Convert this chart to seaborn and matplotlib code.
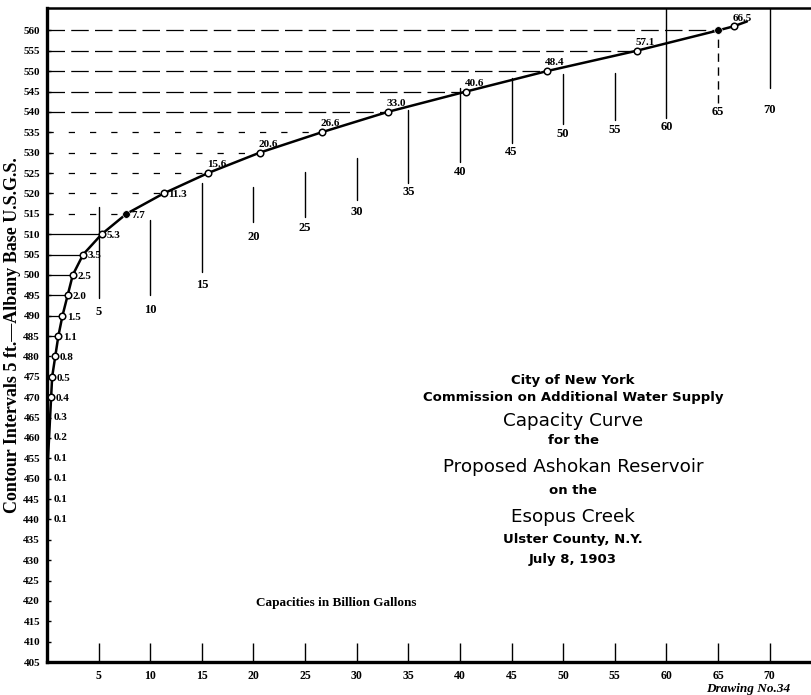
import pandas as pd
import seaborn as sns
import matplotlib.pyplot as plt

# contour elevation (ft) and capacity (billion gallons)
elevation = [440, 445, 450, 455, 460, 465, 470, 475, 480, 485, 490, 495, 500,
             505, 510, 515, 520, 525, 530, 535, 540, 545, 550, 555, 560, 561, 562.2]
capacity = [0.1, 0.1, 0.1, 0.1, 0.2, 0.3, 0.4, 0.5, 0.8, 1.1, 1.5, 2.0, 2.5,
            3.5, 5.3, 7.7, 11.3, 15.6, 20.6, 26.6, 33.0, 40.6, 48.4, 57.1, 65.0, 66.5, 67.8]
point_labels = ["0.1", "0.1", "0.1", "0.1", "0.2", "0.3", "0.4", "0.5", "0.8", "1.1",
                "1.5", "2.0", "2.5", "3.5", "5.3", "7.7", "11.3", "15.6", "20.6",
                "26.6", "33.0", "40.6", "48.4", "57.1", "", "66.5", ""]

# staggered vertical guide lines with their capacity numbers
guide_x = [5, 10, 15, 20, 25, 30, 35, 40, 45, 50, 55, 60, 65, 70]
guide_top = [516.6, 513.4, 522.5, 521.5, 525.2, 528.8, 540.4, 545.8, 548.2, 549.2, 549.5, 565.5, 558.8, 565.5]
guide_bottom = [494.3, 495.0, 500.6, 512.9, 514.1, 518.3, 522.5, 527.6, 532.3, 537.0, 537.9, 538.4, 542.3, 545.8]
guide_label_y = [490.8, 491.3, 497.5, 509.2, 511.4, 515.4, 520.3, 525.2, 530.1, 534.7, 535.5, 536.2, 539.9, 540.4]

y_ticks = list(range(405, 561, 5))
x_ticks = list(range(5, 71, 5))

title_lines = ["City of New York", "Commission on Additional Water Supply", "Capacity Curve",
               "for the", "Proposed Ashokan Reservoir", "on the", "Esopus Creek",
               "Ulster County, N.Y.", "July 8, 1903"]
title_y_px = [380, 398, 421, 441, 467, 490, 517, 539, 559]
title_big = [False, False, True, False, True, False, True, False, False]

df = pd.DataFrame({"elevation": elevation, "capacity": capacity, "label": point_labels})

sns.set_theme(style="white")
plt.rcParams["font.family"] = ["Liberation Serif", "DejaVu Serif"]
plt.rcParams["text.color"] = "black"

fig = plt.figure(figsize=(8.11, 6.95), dpi=100)
ax = fig.add_axes([47 / 811, 33 / 695, 764 / 811, 654 / 695])

# horizontal contour lines from the axis to the curve
for e, c in zip(elevation, capacity):
    if e < 485 or e > 560:
        continue
    ls = "-" if e <= 510 else ((0, (14, 5)) if e in (540, 545, 550, 555, 560) else (0, (5, 12)))
    ax.plot([0, c], [e, e], color="black", lw=0.9, ls=ls, zorder=1)

# vertical guides and numbers
for gx, top, bot, ly in zip(guide_x, guide_top, guide_bottom, guide_label_y):
    ls = (0, (6, 4)) if gx == 65 else "-"
    ax.plot([gx, gx], [bot, top], color="black", lw=1.0, ls=ls, zorder=1)
    ax.text(gx, ly, str(gx), ha="center", va="center", fontsize=9, fontweight="bold")

# capacity curve
sns.lineplot(data=df, x="capacity", y="elevation", sort=False, estimator=None,
             color="black", lw=1.8, ax=ax, zorder=3)
marked = df[(df["elevation"] >= 470) & (df["label"] != "") | (df["elevation"] == 560)]
filled = marked["elevation"].isin([515, 560])
sns.scatterplot(data=marked[~filled], x="capacity", y="elevation", s=22, marker="o",
                facecolor="white", edgecolor="black", linewidth=1.1, ax=ax, zorder=4)
sns.scatterplot(data=marked[filled], x="capacity", y="elevation", s=30, marker="o",
                color="black", ax=ax, zorder=4)

for e, c, lab in zip(elevation, capacity, point_labels):
    if not lab:
        continue
    if e < 470:
        ax.annotate(lab, (0, e), xytext=(5, 0), textcoords="offset points",
                    ha="left", va="center", fontsize=8, fontweight="bold")
    elif e <= 520:
        ax.annotate(lab, (c, e), xytext=(3.5, -1), textcoords="offset points",
                    ha="left", va="center", fontsize=8, fontweight="bold")
    else:
        ax.annotate(lab, (c, e), xytext=(-1, 6), textcoords="offset points",
                    ha="left", va="center", fontsize=8, fontweight="bold")

ax.set_xlim(0, 74)
ax.set_ylim(405, 565.5)
ax.set_yticks(y_ticks)
ax.set_yticklabels([str(t) for t in y_ticks], fontsize=8, fontweight="bold")
ax.set_xticks(x_ticks)
ax.set_xticklabels([str(t) for t in x_ticks], fontsize=8.5, fontweight="bold")
ax.tick_params(axis="x", direction="in", length=14, width=1, pad=6, bottom=True, colors="black")
ax.tick_params(axis="y", direction="in", length=3, width=1, pad=5, left=True, colors="black")
ax.set_xlabel("")
ax.set_ylabel("Contour Intervals 5 ft.\u2014Albany Base U.S.G.S.", fontsize=13,
              fontweight="bold", color="black")
ax.yaxis.set_label_coords(-26 / 764, 0.5)

for side in ["left", "bottom", "top"]:
    ax.spines[side].set_color("black")
ax.spines["left"].set_linewidth(2.4)
ax.spines["bottom"].set_linewidth(2.4)
ax.spines["top"].set_linewidth(1.8)
ax.spines["right"].set_visible(False)

ax.text(28, 419.5, "Capacities in Billion Gallons", ha="center", va="center",
        fontsize=9.5, fontweight="bold")

for txt, ypx, big in zip(title_lines, title_y_px, title_big):
    fig.text(573 / 811, 1 - ypx / 695, txt, ha="center", va="center", color="black",
             family=["DejaVu Sans"], fontsize=13.2 if big else 9.5,
             fontweight="normal" if big else "bold")

fig.text(706 / 811, 1 - 689 / 695, "Drawing No.34", ha="left", va="center",
         fontsize=9.5, fontweight="bold", style="italic")

fig.savefig("out.png", dpi=100, facecolor="white")
